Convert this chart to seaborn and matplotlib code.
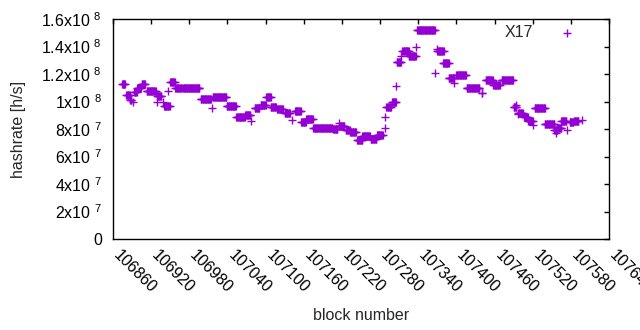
import numpy as np
import pandas as pd
import matplotlib
matplotlib.use("Agg")
import matplotlib.pyplot as plt
import matplotlib.transforms as mtransforms
import seaborn as sns

# hashrate runs: consecutive blocks sharing one value (x1e8 h/s)
run_start = [106874, 106881, 106887, 106891, 106893, 106898, 106905, 106913, 106929, 106929,
             106938, 106940, 106947, 106950, 106958, 106969, 106998, 107016, 107017, 107039,
             107054, 107068, 107077, 107083, 107092, 107101, 107108, 107118, 107130, 107142,
             107146, 107156, 107164, 107175, 107206, 107215, 107216, 107226, 107233, 107244,
             107252, 107265, 107275, 107287, 107288, 107290, 107299, 107305, 107306, 107313,
             107315, 107325, 107337, 107338, 107367, 107369, 107370, 107379, 107388, 107397,
             107400, 107416, 107440, 107446, 107458, 107471, 107490, 107494, 107497, 107497,
             107507, 107513, 107521, 107523, 107539, 107554, 107556, 107559, 107565, 107574,
             107578, 107585, 107597]
run_end = [106879, 106886, 106889, 106891, 106897, 106904, 106910, 106927, 106936, 106929,
           106938, 106949, 106947, 106957, 106967, 106996, 107014, 107016, 107038, 107053,
           107067, 107076, 107077, 107090, 107100, 107108, 107116, 107127, 107138, 107142,
           107155, 107163, 107174, 107205, 107213, 107215, 107224, 107232, 107242, 107252,
           107264, 107274, 107284, 107287, 107288, 107297, 107305, 107305, 107313, 107313,
           107325, 107336, 107337, 107366, 107367, 107369, 107380, 107388, 107396, 107397,
           107415, 107436, 107441, 107457, 107468, 107489, 107494, 107494, 107504, 107497,
           107512, 107520, 107521, 107539, 107554, 107559, 107556, 107565, 107573, 107574,
           107584, 107592, 107597]
run_rate = [1.125, 1.05, 1.01, 0.995, 1.07, 1.10, 1.125, 1.08, 1.04, 0.995,
            0.995, 0.97, 1.08, 1.145, 1.095, 1.10, 1.02, 0.95, 1.035, 0.965,
            0.885, 0.90, 0.855, 0.95, 0.975, 1.035, 0.96, 0.945, 0.915, 0.865,
            0.93, 0.85, 0.875, 0.805, 0.80, 0.845, 0.82, 0.79, 0.775, 0.72,
            0.75, 0.73, 0.755, 0.81, 0.885, 0.96, 1.0, 1.11, 1.29, 1.33,
            1.37, 1.33, 1.395, 1.52, 1.205, 1.385, 1.37, 1.28, 1.17, 1.135,
            1.195, 1.095, 1.065, 1.16, 1.12, 1.16, 0.96, 0.975, 0.915, 0.91,
            0.885, 0.86, 0.83, 0.955, 0.84, 0.79, 0.77, 0.81, 0.86, 0.79,
            0.85, 0.86, 0.865]

xticks = list(range(106860, 107641, 60))
yticks = [0, 2e7, 4e7, 6e7, 8e7, 1e8, 1.2e8, 1.4e8, 1.6e8]
ytick_labels = ["0", "2x10 $^{7}$", "4x10 $^{7}$", "6x10 $^{7}$", "8x10 $^{7}$",
                "1x10 $^{8}$", "1.2x10 $^{8}$", "1.4x10 $^{8}$", "1.6x10 $^{8}$"]

blocks, rates = [], []
for s, e, r in zip(run_start, run_end, run_rate):
    for b in range(s, e + 1):
        blocks.append(b)
        rates.append(r * 1e8)
df = pd.DataFrame({"block": blocks, "hashrate": rates})

sns.set_theme(style="white")
plt.rcParams['font.family'] = ['Liberation Sans', 'DejaVu Sans']
plt.rcParams['mathtext.fontset'] = 'custom'
plt.rcParams['mathtext.rm'] = 'Liberation Sans'
plt.rcParams['mathtext.default'] = 'regular'

fig = plt.figure(figsize=(6.4, 3.3), dpi=100)
ax = fig.add_axes([113 / 640, 1 - 239 / 330, 496 / 640, 220 / 330])

sns.scatterplot(data=df, x="block", y="hashrate", marker="+", color="#9400D3",
                s=40, linewidth=1.0, label="X17", ax=ax)

ax.set_xlim(106860, 107640)
ax.set_ylim(0, 1.6e8)
ax.set_xticks(xticks)
ax.set_xticklabels([str(t) for t in xticks], rotation=-45, ha="left", va="center",
                   rotation_mode="anchor")
ax.set_yticks(yticks)
ax.set_yticklabels(ytick_labels)
ax.tick_params(axis="both", direction="in", length=3.5, width=1.0, colors="black",
               labelsize=11.5, top=True, right=True)
ax.tick_params(axis="x", pad=10)
ax.tick_params(axis="y", pad=8)
offset = mtransforms.ScaledTranslation(3 / 100, 0, fig.dpi_scale_trans)
for lbl in ax.get_xticklabels():
    lbl.set_transform(lbl.get_transform() + offset)

for sp in ax.spines.values():
    sp.set_color("black")
    sp.set_linewidth(1.0)

ax.set_xlabel("block number", fontsize=11.5)
ax.set_ylabel("hashrate [h/s]", fontsize=11.5)
ax.xaxis.set_label_coords(0.5, -0.315)
ax.yaxis.set_label_coords(-0.176, 0.5)

ax.legend(loc="upper right", bbox_to_anchor=(0.954, 0.986), frameon=False,
          markerfirst=False, borderaxespad=0, borderpad=0.2, handlelength=2,
          handletextpad=1.1, fontsize=11.5, scatterpoints=1)

fig.savefig("out.png", dpi=100)
